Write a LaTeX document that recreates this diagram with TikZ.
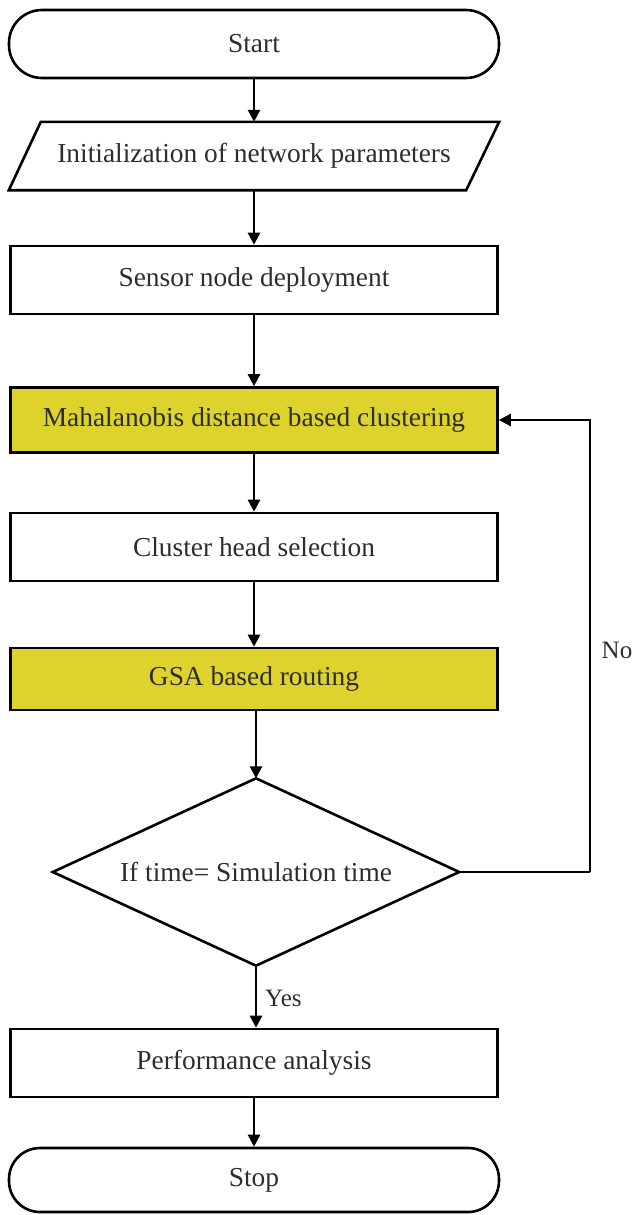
\documentclass[tikz,border=0pt]{standalone}
\usepackage{fontspec}
\setmainfont{Liberation Serif}
\usetikzlibrary{arrows.meta}
\definecolor{boxyellow}{RGB}{222,210,44}
\definecolor{txtgray}{RGB}{45,45,45}
\begin{document}
\begin{tikzpicture}[x=1pt,y=-1pt,
  every node/.style={font=\fontsize{27.4}{32}\selectfont, text=txtgray, inner sep=0pt},
  terminal/.style={draw=black, line width=2.6pt, rounded corners=33pt, minimum width=490pt, minimum height=68pt},
  procbox/.style={draw=black, line width=2.6pt, minimum width=487pt, minimum height=68pt},
  hilite/.style={procbox, fill=boxyellow, minimum height=65pt},
  ghost/.style={minimum width=458pt, minimum height=68pt},
  outline/.style={draw=black, line width=2.6pt},
  flow/.style={draw=black, line width=2.6pt, -{Triangle[length=12pt,width=12pt]}},
  plain/.style={draw=black, line width=2.6pt},
  lbl/.style={font=\fontsize{25}{29}\selectfont}
]
\useasboundingbox (0,0) rectangle (634,1215);

\node[terminal] (start) at (254,44) {Start};
\node[ghost] (init) at (254,156) {Initialization of network parameters};
\draw[outline] ([xshift=16pt]init.north west) -- ([xshift=16pt]init.north east)
  -- ([xshift=-17pt]init.south east) -- ([xshift=-16pt]init.south west) -- cycle;
\node[procbox] (deploy) at (254,280) {Sensor node deployment};
\node[hilite] (mahal) at (254,420) {Mahalanobis distance based clustering};
\node[procbox] (chs) at (254,547) {Cluster head selection};
\node[hilite, minimum height=62pt] (gsa) at (254,679) {GSA based routing};
\node[minimum width=406pt, minimum height=187pt] (dec) at (256,872) {If time= Simulation time};
\draw[outline] (dec.north) -- (dec.east) -- (dec.south) -- (dec.west) -- cycle;
\node[procbox] (perf) at (254,1063) {Performance analysis};
\node[terminal, minimum height=64pt, rounded corners=31pt] (stop) at (254,1180) {Stop};

\coordinate (fb) at (590,872);
\node[lbl] (no) at (617,650) {No};
\node[lbl, anchor=west] (yes) at (265,998) {Yes};

\draw[flow] (start) -- (init);
\draw[flow] (init) -- (deploy);
\draw[flow] (deploy) -- (mahal);
\draw[flow] (mahal) -- (chs);
\draw[flow] (chs) -- (gsa);
\draw[flow] (gsa.south -| dec.north) -- (dec.north);
\draw[flow] (dec.south) -- (perf.north -| dec.south);
\draw[flow] (perf) -- (stop);
\draw[plain] (dec.east) -- (fb);
\draw[flow] (fb) |- (mahal.east);
\end{tikzpicture}
\end{document}
